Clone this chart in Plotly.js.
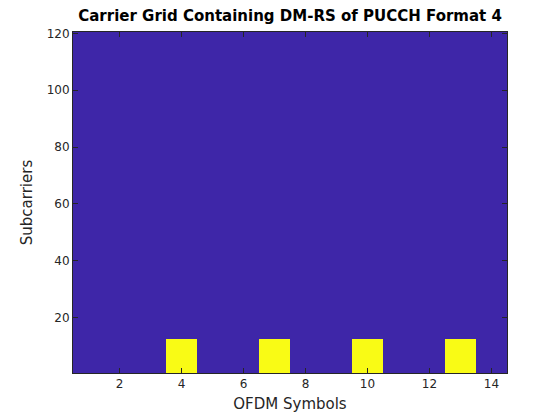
<!DOCTYPE html>
<html><head><meta charset="utf-8">
<script src="https://cdn.plot.ly/plotly-3.0.1.min.js"></script>
<style>body{margin:0;background:#fff}#plot{width:560px;height:420px}</style>
</head><body><div id="plot"></div>
<script>
const numSymbols = 14;
const numSubcarriers = 120;
const dmrsSymbols = [4, 7, 10, 13];
const dmrsSubcarrierCount = 12;
const xTicks = [2, 4, 6, 8, 10, 12, 14];
const yTicks = [20, 40, 60, 80, 100, 120];

const symbols = Array.from({length: numSymbols}, (_, i) => i + 1);
const subcarriers = Array.from({length: numSubcarriers}, (_, i) => i + 1);
const z = subcarriers.map(k => symbols.map(s => (k <= dmrsSubcarrierCount && dmrsSymbols.includes(s)) ? 1 : 0));

const axCol = '#262626';
const font = {family: 'DejaVu Sans, sans-serif', size: 12, color: axCol};
Plotly.newPlot('plot', [{
  type: 'heatmap', x: symbols, y: subcarriers, z: z,
  zmin: 0, zmax: 1,
  colorscale: [[0, '#3e26a8'], [1, '#f9fb15']],
  showscale: false, hoverinfo: 'skip'
}], {
  width: 560, height: 420,
  margin: {l: 73, r: 53, t: 32, b: 47},
  paper_bgcolor: '#fff', plot_bgcolor: '#fff',
  font: font,
  title: {text: '<b>Carrier Grid Containing DM-RS of PUCCH Format 4</b>', font: {size: 15, color: '#000'}, x: 0.518, xanchor: 'center', y: 0.975, yanchor: 'top'},
  xaxis: {range: [0.5, 14.5], tickvals: xTicks, ticks: 'inside', ticklen: 5, tickcolor: axCol,
    showline: true, linecolor: axCol, linewidth: 1, mirror: 'ticks', showgrid: false, zeroline: false,
    title: {text: 'OFDM Symbols', font: {size: 15, color: axCol}, standoff: 8}},
  yaxis: {range: [0.5, 120.5], tickvals: yTicks, ticks: 'inside', ticklen: 5, tickcolor: axCol,
    showline: true, linecolor: axCol, linewidth: 1, mirror: 'ticks', showgrid: false, zeroline: false,
    title: {text: 'Subcarriers', font: {size: 15, color: axCol}, standoff: 10}}
}, {displayModeBar: false, staticPlot: true});
</script></body></html>
